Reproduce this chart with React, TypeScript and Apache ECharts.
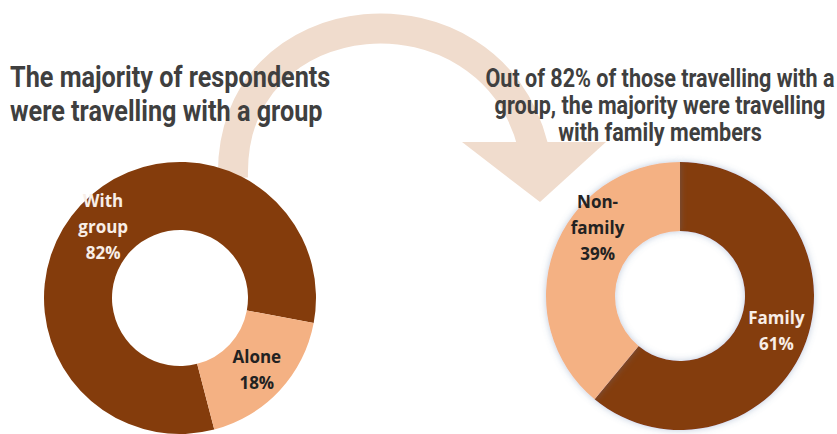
import React, { useEffect, useRef } from "react";
import * as echarts from "echarts";

const leftCategories = ["With group", "Alone"];
const leftValues = [82, 18];
const rightCategories = ["Family", "Non-family"];
const rightValues = [61, 39];
const leftTitleLines = ["The majority of respondents", "were travelling with a group"];
const rightTitleLines = [
  "Out of 82% of those travelling with a",
  "group, the majority were travelling",
  "with family members",
];

const DARK = "#843C0C";
const LIGHT = "#F4B183";
const ARROW = "#F0DCCD";
const TITLE = "#3F3F3F";
const LIGHT_TEXT = "#F8EEE7";
const DARK_TEXT = "#222222";

function wrapName(name: string): string {
  return name.replace("-", "-\n").replace(" ", "\n");
}

export default function App() {
  const ref = useRef<HTMLDivElement>(null);
  useEffect(() => {
    if (!ref.current) return;
    const chart = echarts.init(ref.current, null, { renderer: "svg" });
    const labelBase = {
      show: true,
      position: "inside",
      fontFamily: "'Open Sans', sans-serif",
      fontWeight: "bold",
      fontSize: 17,
      lineHeight: 26,
      formatter: (p: any) => wrapName(p.name) + "\n" + p.value + "%",
    };
    const titleFont = "Roboto, sans-serif";
    const graphics: any[] = [
      {
        type: "bezierCurve",
        z: 0,
        shape: { x1: 233, y1: 178, cpx1: 228, cpy1: -5, cpx2: 490, cpy2: -25, x2: 533, y2: 146 },
        style: { stroke: ARROW, lineWidth: 30, fill: null },
      },
      {
        type: "polygon",
        z: 0,
        shape: { points: [[462, 142], [606, 142], [540, 202]] },
        style: { fill: ARROW },
      },
    ];
    leftTitleLines.forEach((line, i) => {
      graphics.push({
        type: "text",
        z: 100,
        x: 10,
        y: 77 + i * 34,
        scaleX: 0.87,
        style: {
          text: line,
          fill: TITLE,
          font: `bold 29px ${titleFont}`,
          align: "left",
          verticalAlign: "middle",
        },
      });
    });
    rightTitleLines.forEach((line, i) => {
      graphics.push({
        type: "text",
        z: 100,
        x: 660,
        y: 78 + i * 27,
        scaleX: 0.83,
        style: {
          text: line,
          fill: TITLE,
          font: `bold 26px ${titleFont}`,
          align: "center",
          verticalAlign: "middle",
        },
      });
    });
    chart.setOption({
      animation: false,
      backgroundColor: "#ffffff",
      graphic: graphics,
      series: [
        {
          type: "pie",
          z: 2,
          center: [180, 298],
          radius: [68, 136],
          startAngle: 284.6,
          clockwise: true,
          silent: true,
          label: labelBase,
          labelLine: { show: false },
          data: leftCategories.map((name, i) => ({
            name,
            value: leftValues[i],
            itemStyle: { color: i === 0 ? DARK : LIGHT },
            label: { color: i === 0 ? LIGHT_TEXT : DARK_TEXT },
          })),
        },
        {
          type: "pie",
          z: 2,
          center: [680, 296],
          radius: [65, 134],
          startAngle: 90,
          clockwise: true,
          silent: true,
          label: labelBase,
          labelLine: { show: false },
          labelLayout: (params: any) => (params.dataIndex === 1 ? { dx: 14, dy: -34 } : {}),
          itemStyle: { shadowBlur: 7, shadowColor: "rgba(90,120,165,0.4)" },
          data: rightCategories.map((name, i) => ({
            name,
            value: rightValues[i],
            itemStyle: { color: i === 0 ? DARK : LIGHT },
            label: { color: i === 0 ? LIGHT_TEXT : DARK_TEXT },
          })),
        },
      ],
    });
    return () => chart.dispose();
  }, []);
  return (
    <div
      ref={ref}
      style={{ position: "absolute", left: 0, top: 0, width: 837, height: 434 }}
    />
  );
}
